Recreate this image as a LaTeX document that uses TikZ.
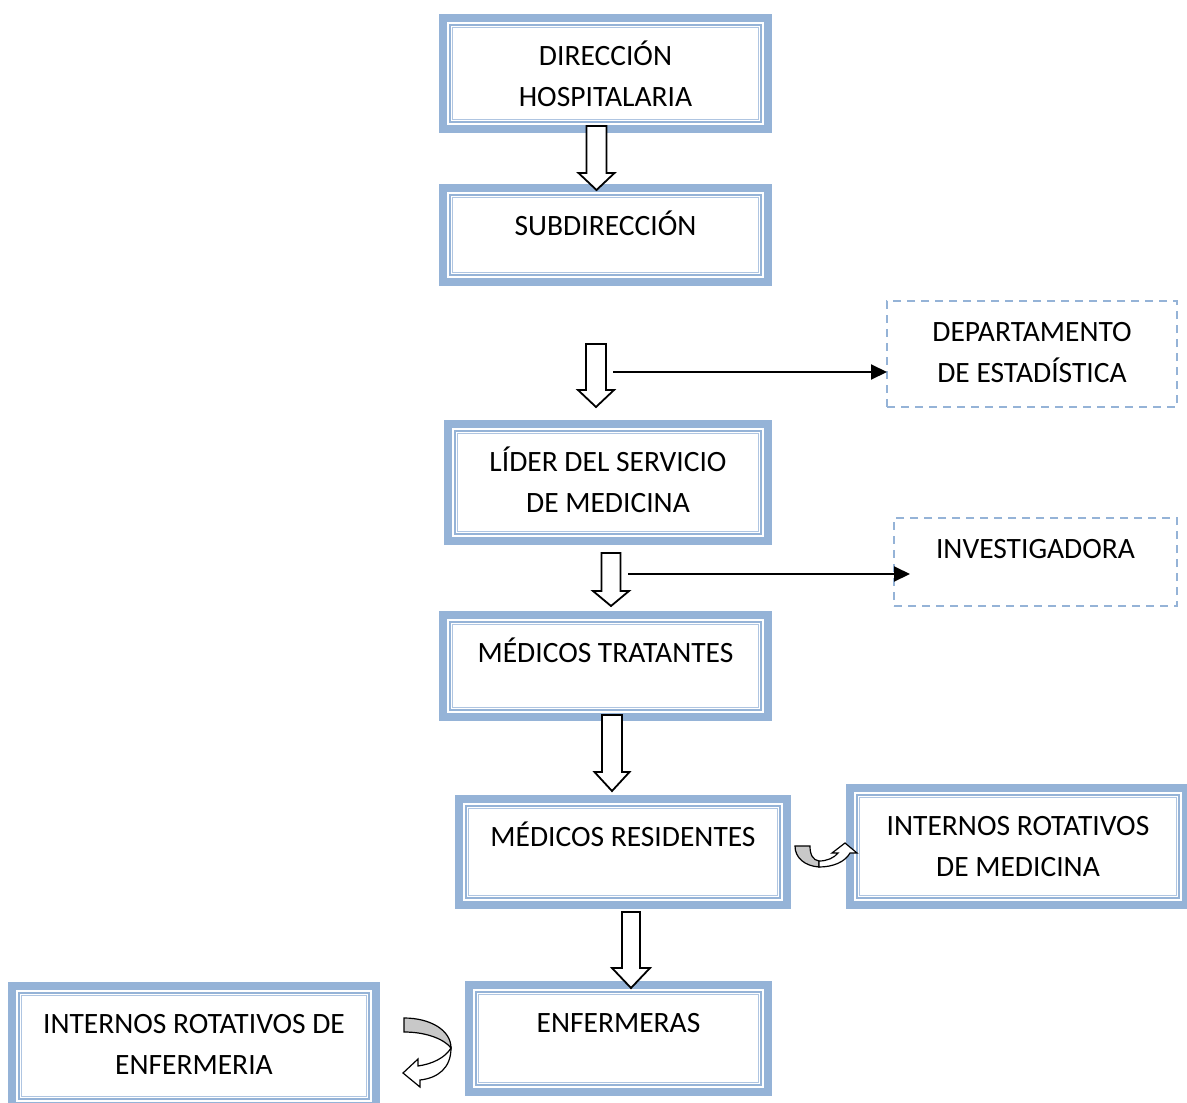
\documentclass[tikz,border=0pt]{standalone}
\usepackage{fontspec}
\setmainfont{Carlito}
\usetikzlibrary{arrows.meta,calc}

\definecolor{bandcol}{HTML}{95B3D7}
\definecolor{linecol}{HTML}{AFC5E1}
\definecolor{foldgray}{HTML}{C8C8C8}

\tikzset{
  orgframe/.style={rectangle, inner sep=0pt, outer sep=0pt,
    path picture={
      \foreach \d/\w/\c in {4/8/bandcol, 11/2/bandcol, 13.5/1/linecol}
        \draw[line width=\w*1pt, draw=\c]
          ([shift={(\d*1pt,-\d*1pt)}]path picture bounding box.north west) rectangle
          ([shift={(-\d*1pt,\d*1pt)}]path picture bounding box.south east);
    }},
  dashframe/.style={rectangle, inner sep=0pt, outer sep=0pt, draw=bandcol,
    line width=2pt, dash pattern=on 8pt off 6pt},
  boxtext/.style={anchor=base, align=center, inner sep=0pt,
    font=\fontsize{29.5}{41}\selectfont},
  blockarr/.style={draw=black, fill=white, line width=1.8pt, line join=miter},
  thinarr/.style={draw=black, line width=2pt, -{Triangle[length=16pt,width=15pt]}},
  foldpart/.style={draw=black, line width=1.2pt, fill=foldgray},
  ribbon/.style={draw=black, line width=1.2pt, fill=white, line join=miter},
}

% framed box: name, x1, y1, x2, y2, number of lines, text
% (the base anchor of a multi-line node is the baseline of its last line)
\newcommand\orgbox[7]{%
  \node[orgframe, minimum width={(#4-#2)*1pt}, minimum height={(#5-#3)*1pt}]
    (#1) at ({(#2+#4)/2},{(#3+#5)/2}) {};
  \node[boxtext] (#1-text) at ({(#2+#4)/2},{#3+51.8+41*(#6-1)}) {#7};
}
% dashed box: name, x1, y1, x2, y2, number of lines, text
\newcommand\unitbox[7]{%
  \node[dashframe, minimum width={(#4-#2)*1pt}, minimum height={(#5-#3)*1pt}]
    (#1) at ({(#2+#4)/2},{(#3+#5)/2}) {};
  \node[boxtext] (#1-text) at ({(#2+#4)/2},{#3+40.3+41*(#6-1)}) {#7};
}
% hollow down arrow: x centre, shaft width, head width, top, head base, tip
\newcommand\downblock[6]{%
  \draw[blockarr] ({#1-#2/2},#4) -- ({#1+#2/2},#4) -- ({#1+#2/2},#5) --
    ({#1+#3/2},#5) -- (#1,#6) -- ({#1-#3/2},#5) -- ({#1-#2/2},#5) -- cycle;
}

\begin{document}
\begin{tikzpicture}[x=1pt,y=-1pt]
\fill[white] (0,0) rectangle (1187,1103);
\useasboundingbox (0,0) rectangle (1187,1103);

% hierarchy boxes
\orgbox{dir}{439}{14}{772}{133}{2}{DIRECCIÓN\\HOSPITALARIA}
\orgbox{sub}{439}{184}{772}{286}{1}{SUBDIRECCIÓN}
\orgbox{lider}{444}{420}{772}{545}{2}{LÍDER DEL SERVICIO\\DE MEDICINA}
\orgbox{trat}{439}{611}{772}{721}{1}{MÉDICOS TRATANTES}
\orgbox{resid}{455}{795}{791}{909}{1}{MÉDICOS RESIDENTES}
\orgbox{intmed}{846}{784}{1190}{909}{2}{INTERNOS ROTATIVOS\\DE MEDICINA}
\orgbox{enf}{465}{981}{772}{1096}{1}{ENFERMERAS}
\orgbox{intenf}{8}{982}{380}{1110}{2}{INTERNOS ROTATIVOS DE\\ENFERMERIA}

% support units
\unitbox{estad}{887}{301}{1177}{407}{2}{DEPARTAMENTO\\DE ESTADÍSTICA}
\unitbox{inv}{894}{518}{1177}{606}{1}{INVESTIGADORA}

% hollow arrows down the chain of command
\downblock{596.5}{20}{36}{126}{173}{190}
\downblock{596}{20}{36}{344}{390}{407}
\downblock{611}{19}{36}{553}{591}{606}
\downblock{612}{20}{35}{715}{772}{791}
\downblock{631}{18}{38}{912}{968}{988}

% links to the support units
\coordinate (s1) at (613,372);
\coordinate (s2) at (628,574);
\draw[thinarr] (s1) -- (s1 -| estad.west);
\draw[thinarr] (s2) -- ($(s2 -| inv.west)+(16,0)$);

% curved arrow towards the medical interns
\draw[foldpart] (795,846) -- (810,846) .. controls (810,855) and (813,860) .. (819,861)
  -- (819,867) .. controls (805,866) and (795,858) .. (795,846) -- cycle;
\draw[ribbon] (819,861) .. controls (827,861) and (834,858) .. (838,853)
  -- (832,853) -- (845,843) -- (857,853) -- (850,853)
  .. controls (845,862) and (833,867) .. (819,867) -- cycle;

% curved arrow towards the nursing interns
\draw[foldpart] (404,1018) .. controls (430,1018) and (451,1030) .. (451,1048)
  .. controls (445,1040) and (428,1032) .. (404,1032) -- cycle;
\draw[ribbon] (451,1048) .. controls (451,1068) and (438,1078) .. (420,1080)
  -- (420,1087) -- (403,1073) -- (418,1059) -- (418,1066)
  .. controls (432,1064) and (445,1058) .. (451,1048) -- cycle;
\end{tikzpicture}
\end{document}
